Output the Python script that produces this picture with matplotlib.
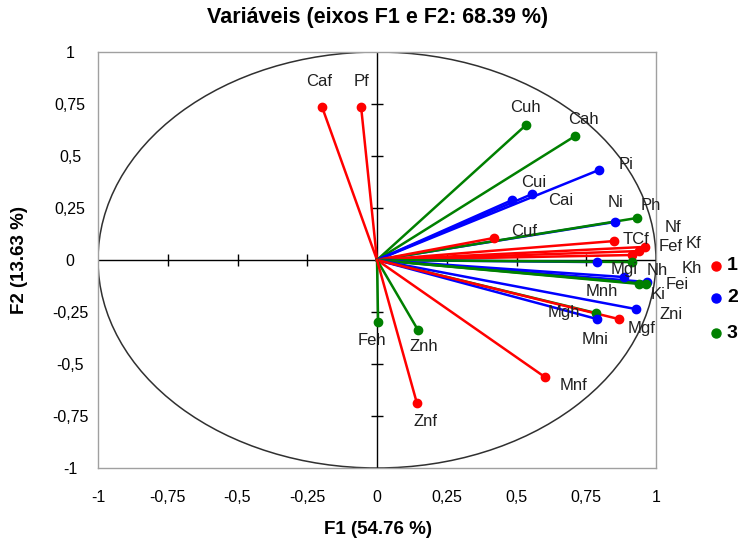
import numpy as np
import matplotlib
matplotlib.use("Agg")
import matplotlib.pyplot as plt
from matplotlib.patches import Ellipse

# variables (loadings on F1 / F2) and their group: 1 = f, 2 = i, 3 = h
names = ['Caf', 'Pf', 'Cuh', 'Cah', 'Pi', 'Cui', 'Cai', 'Ni', 'Ph', 'Cuf',
         'TCf', 'Nf', 'Fef', 'Kf', 'Mgi', 'Nh', 'Ki', 'Fei', 'Kh', 'Mnh',
         'Zni', 'Mgh', 'Mni', 'Mgf', 'Mnf', 'Feh', 'Znh', 'Znf']
f1 = [-0.197, -0.057, 0.534, 0.710, 0.796, 0.556, 0.484, 0.853, 0.932, 0.419,
      0.849, 0.961, 0.939, 0.914, 0.789, 0.914, 0.885, 0.968, 0.964, 0.939,
      0.928, 0.785, 0.789, 0.867, 0.602, 0.004, 0.147, 0.143]
f2 = [0.736, 0.736, 0.649, 0.596, 0.433, 0.317, 0.288, 0.183, 0.202, 0.106,
      0.091, 0.063, 0.043, 0.024, -0.010, -0.010, -0.082, -0.106, -0.115, -0.115,
      -0.236, -0.255, -0.284, -0.284, -0.563, -0.298, -0.337, -0.688]
group = [1, 1, 3, 3, 2, 2, 2, 2, 3, 1,
         1, 1, 1, 1, 2, 3, 2, 2, 3, 3,
         2, 3, 2, 1, 1, 3, 3, 1]

groups = [1, 2, 3]
colors = {1: '#ff0000', 2: '#0000ff', 3: '#008000'}

ticks = [-1, -0.75, -0.5, -0.25, 0, 0.25, 0.5, 0.75, 1]
tick_labels = ['-1', '-0,75', '-0,5', '-0,25', '0', '0,25', '0,5', '0,75', '1']

# label offsets in pixels (layout only)
offsets = {
    'Caf': (-3, 25), 'Pf': (0, 25), 'Cuh': (-1, 18), 'Cah': (8, 17),
    'Pi': (27, 5), 'Cui': (2, 12), 'Cai': (49, 0), 'Ni': (1, 19),
    'Ph': (14, 12), 'Cuf': (30, 6), 'TCf': (22, 2), 'Nf': (28, 19),
    'Fef': (32, 5), 'Kf': (61, 12), 'Mgi': (27, -7), 'Nh': (25, -8),
    'Ki': (34, -17), 'Fei': (30, -2), 'Kh': (46, 15), 'Mnh': (-37, -8),
    'Zni': (35, -5), 'Mgh': (-32, 1), 'Mni': (-2, -20), 'Mgf': (23, -9),
    'Mnf': (29, -8), 'Feh': (-6, -19), 'Znh': (6, -16), 'Znf': (9, -18),
}

plt.rcParams['font.family'] = ['Liberation Sans', 'DejaVu Sans']

fig = plt.figure(figsize=(7.41, 5.45), dpi=100)
ax = fig.add_axes([98 / 741, 1 - 468 / 545, 558 / 741, 416 / 545])
ax.set_xlim(-1, 1)
ax.set_ylim(-1, 1)

for s in ax.spines.values():
    s.set_color('#a0a0a0')
    s.set_linewidth(1)

# unit circle
ax.add_patch(Ellipse((0, 0), 2, 2, fill=False, edgecolor='#303030', lw=1.1, zorder=1))

# axes through origin with cross ticks
ax.axhline(0, color='black', lw=1, zorder=2)
ax.axvline(0, color='black', lw=1, zorder=2)
inner = [t for t in ticks if t not in (-1, 0, 1)]
ax.plot(inner, np.zeros(len(inner)), linestyle='none', marker='|', ms=8,
        color='black', mew=1, zorder=2)
ax.plot(np.zeros(len(inner)), inner, linestyle='none', marker='_', ms=8,
        color='black', mew=1, zorder=2)

for n, x, y, g in zip(names, f1, f2, group):
    c = colors[g]
    ax.plot([0, x], [0, y], color=c, lw=1.8, zorder=3)
    ax.plot(x, y, 'o', color=c, ms=6, zorder=4)
    dx, dy = offsets[n]
    ax.annotate(n, (x, y), xytext=(dx, dy), textcoords='offset pixels',
                ha='center', va='center', fontsize=12, color='#202020',
                zorder=5)

ax.set_xticks(ticks)
ax.set_xticklabels(tick_labels)
ax.set_yticks(ticks)
ax.set_yticklabels(tick_labels)
ax.tick_params(length=0, labelsize=11.5, colors='black')
ax.tick_params(axis='x', pad=21)
ax.tick_params(axis='y', pad=20)
for lab in ax.get_xticklabels():
    lab.set_va('center')
for lab in ax.get_yticklabels():
    lab.set_ha('center')

fig.text(378 / 741, 1 - 18 / 545, 'Variáveis (eixos F1 e F2: 68.39 %)',
         ha='center', va='center', fontsize=15.5, fontweight='bold')
fig.text(378 / 741, 1 - 530 / 545, 'F1 (54.76 %)', ha='center', va='center',
         fontsize=13.5, fontweight='bold')
fig.text(20 / 741, 1 - 260 / 545, 'F2 (13.63 %)', ha='center', va='center',
         rotation=90, fontsize=13.5, fontweight='bold')

# legend at right edge
leg_y = [266, 298, 333]
for g, yy in zip(groups, leg_y):
    fig.lines.append(plt.Line2D([716 / 741], [1 - yy / 545], marker='o', ms=6.5,
                                color=colors[g], linestyle='none',
                                transform=fig.transFigure))
    fig.text(727 / 741, 1 - yy / 545, str(g), ha='left', va='center',
             fontsize=14, fontweight='bold')

fig.savefig('out.png', dpi=100)
